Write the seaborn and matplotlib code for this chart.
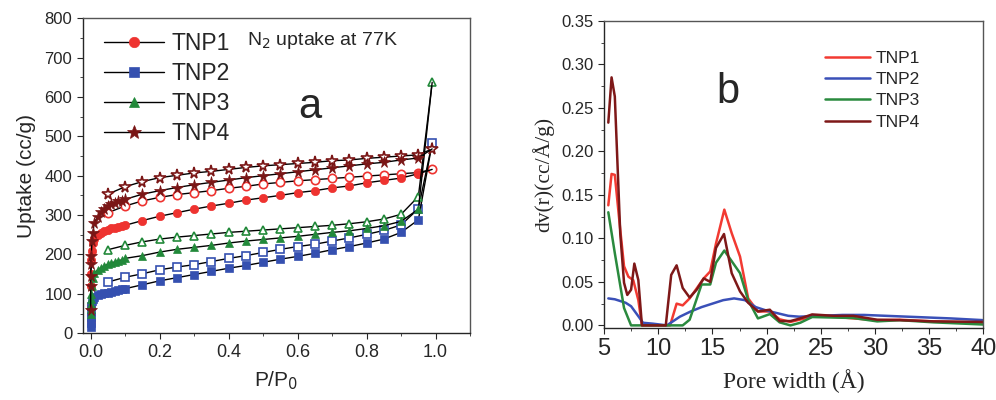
import numpy as np
import pandas as pd
import matplotlib
matplotlib.use("Agg")
import matplotlib.pyplot as plt
import seaborn as sns

# ---------------- Données : isothermes N2 (panneau a) ----------------
p_ads = [0.0001, 0.0003, 0.0006, 0.001, 0.002, 0.004, 0.007,
         0.01, 0.02, 0.03, 0.04, 0.05, 0.06, 0.07, 0.08, 0.09, 0.10,
         0.15, 0.20, 0.25, 0.30, 0.35, 0.40, 0.45, 0.50, 0.55, 0.60,
         0.65, 0.70, 0.75, 0.80, 0.85, 0.90, 0.95, 0.99]
p_des = [0.99, 0.95, 0.90, 0.85, 0.80, 0.75, 0.70, 0.65, 0.60, 0.55,
         0.50, 0.45, 0.40, 0.35, 0.30, 0.25, 0.20, 0.15, 0.10, 0.05]

tnp1_ads = [30, 70, 120, 150, 185, 210, 228,
            240, 250, 255, 260, 263, 266, 268, 270, 272, 274,
            286, 297, 306, 315, 323, 330, 338, 344, 350, 357,
            362, 369, 374, 382, 388, 394, 405, 416]
tnp1_des = [416, 408, 405, 402, 399, 396, 393, 390, 387, 383,
            379, 373, 368, 362, 357, 352, 345, 336, 323, 306]

tnp2_ads = [15, 25, 40, 55, 70, 82, 88,
            93, 96, 99, 101, 103, 105, 107, 109, 111, 113,
            123, 133, 141, 149, 157, 165, 172, 180, 188, 195,
            203, 212, 220, 229, 239, 256, 288, 483]
tnp2_des = [483, 316, 275, 261, 251, 242, 234, 226, 220, 213,
            205, 197, 190, 182, 174, 168, 161, 151, 142, 130]

tnp3_ads = [50, 62, 75, 88, 100, 120, 140,
            152, 160, 166, 171, 175, 178, 181, 184, 186, 190,
            197, 206, 213, 218, 223, 229, 234, 238, 242, 246,
            251, 256, 260, 266, 273, 284, 315, 637]
tnp3_des = [637, 347, 302, 290, 283, 278, 274, 271, 268, 265,
            262, 259, 256, 252, 248, 244, 239, 232, 223, 212]

tnp4_ads = [60, 120, 145, 175, 195, 235, 255,
            280, 295, 308, 316, 322, 327, 331, 335, 337, 340,
            353, 362, 370, 377, 383, 389, 395, 400, 405, 410,
            415, 420, 425, 430, 434, 440, 445, 468]
tnp4_des = [468, 453, 450, 447, 444, 440, 438, 434, 431, 428,
            425, 421, 416, 411, 407, 401, 395, 385, 372, 353]

# ---------------- Données : distribution de pores (panneau b) ----------------
w1 = [5.4, 5.7, 6.0, 6.5, 6.85, 7.25, 7.7, 8.17, 8.5, 11.1, 11.7, 12.26,
      12.9, 14.2, 14.8, 15.33, 16.1, 16.78, 17.55, 18.3, 19.2, 20.3, 21.2,
      22.2, 24.2, 26.2, 28.0, 30.2, 32.3, 35.4, 40.0]
d1 = [0.138, 0.174, 0.173, 0.110, 0.068, 0.056, 0.052, 0.029, 0.0, 0.0, 0.025,
      0.023, 0.031, 0.054, 0.062, 0.094, 0.133, 0.106, 0.079, 0.031, 0.016,
      0.016, 0.007, 0.004, 0.010, 0.010, 0.008, 0.006, 0.0065, 0.0046, 0.003]

w2 = [5.4, 6.0, 7.0, 7.5, 8.2, 8.6, 9.5, 10.8, 12.0, 13.0, 14.0, 15.0, 16.0,
      17.0, 18.0, 19.0, 20.0, 21.0, 22.0, 23.0, 25.0, 27.0, 29.0, 31.0, 33.0,
      35.0, 37.0, 40.0]
d2 = [0.031, 0.030, 0.026, 0.022, 0.010, 0.003, 0.002, 0.0, 0.010, 0.016,
      0.021, 0.025, 0.029, 0.031, 0.029, 0.021, 0.017, 0.014, 0.011, 0.010,
      0.011, 0.012, 0.012, 0.011, 0.010, 0.009, 0.008, 0.006]

w3 = [5.4, 6.0, 6.85, 7.5, 12.26, 12.9, 14.0, 14.8, 15.33, 16.1, 17.55, 18.3,
      19.2, 20.3, 21.2, 22.2, 23.1, 24.2, 26.2, 28.0, 30.2, 32.3, 35.4, 40.0]
d3 = [0.130, 0.083, 0.020, 0.0, 0.0, 0.0065, 0.047, 0.047, 0.072, 0.086,
      0.060, 0.029, 0.008, 0.013, 0.0035, 0.0, 0.003, 0.0096, 0.009, 0.0085,
      0.0046, 0.006, 0.0035, 0.001]

w4 = [5.4, 5.7, 6.0, 6.5, 6.85, 7.15, 7.5, 7.8, 8.17, 8.5, 10.7, 11.2, 11.7,
      12.26, 12.9, 13.55, 14.2, 14.8, 15.33, 16.07, 16.78, 17.55, 18.3, 19.2,
      20.3, 21.2, 22.2, 23.1, 24.2, 26.2, 28.0, 30.2, 32.3, 35.4, 40.0]
d4 = [0.233, 0.285, 0.263, 0.106, 0.049, 0.035, 0.041, 0.071, 0.052, 0.0,
      0.0, 0.058, 0.069, 0.043, 0.032, 0.041, 0.054, 0.050, 0.089, 0.105,
      0.060, 0.039, 0.026, 0.016, 0.018, 0.005, 0.005, 0.008, 0.0126, 0.011,
      0.011, 0.0065, 0.006, 0.0046, 0.004]

names = ["TNP1", "TNP2", "TNP3", "TNP4"]
cols_a = ["#EE3330", "#3550B0", "#22893A", "#7A1616"]
cols_b = ["#F23A32", "#3A50B8", "#2A8A3E", "#7E1818"]
marks = ["o", "s", "^", "*"]

# ---------------- Style ----------------
sns.set_style("ticks")
plt.rcParams['font.family'] = ['Liberation Sans', 'DejaVu Sans']
plt.rcParams['axes.linewidth'] = 1.0
plt.rcParams['xtick.major.size'] = 4
plt.rcParams['ytick.major.size'] = 4
plt.rcParams['xtick.minor.size'] = 2.5
plt.rcParams['ytick.minor.size'] = 2.5

fig = plt.figure(figsize=(9.96, 4.0), dpi=100)
ax1 = fig.add_axes([0.083, 0.167, 0.389, 0.7875])
ax2 = fig.add_axes([0.6064, 0.18, 0.381, 0.768])

# ---------------- Panneau a ----------------
ads = [tnp1_ads, tnp2_ads, tnp3_ads, tnp4_ads]
des = [tnp1_des, tnp2_des, tnp3_des, tnp4_des]
handles = []
for name, c, m, ya, yd in zip(names, cols_a, marks, ads, des):
    ms = 8.5 if m == "*" else 6
    sns.lineplot(x=p_des, y=yd, sort=False, estimator=None, ax=ax1,
                 color="black", lw=1.0, marker=m, markersize=ms,
                 markerfacecolor="white", markeredgecolor=c, markeredgewidth=1.2)
    sns.lineplot(x=p_ads, y=ya, sort=False, estimator=None, ax=ax1,
                 color="black", lw=1.0, marker=m, markersize=ms,
                 markerfacecolor=c, markeredgecolor=c, markeredgewidth=0.5,
                 markevery=list(range(len(p_ads) - 1)), label=name)
    handles.append(ax1.lines[-1])

ax1.set_xlim(-0.023, 1.10)
ax1.set_ylim(0, 800)
ax1.set_xticks(np.arange(0, 1.01, 0.2))
ax1.set_xticks(np.arange(0, 1.11, 0.1), minor=True)
ax1.set_yticks(np.arange(0, 801, 100))
ax1.set_yticks(np.arange(0, 801, 50), minor=True)
ax1.tick_params(axis="x", which="major", labelsize=13)
ax1.tick_params(axis="y", which="major", labelsize=12)
ax1.set_xlabel("P/P$_0$", fontsize=15, labelpad=6)
ax1.set_ylabel("Uptake (cc/g)", fontsize=15, labelpad=6)
for s in ["top", "right"]:
    ax1.spines[s].set_color("#555555")
leg = ax1.legend(handles=handles, labels=names, loc="upper left",
                 frameon=False, fontsize=16.5, handlelength=2.6,
                 handletextpad=0.35, labelspacing=0.3, markerscale=1.25,
                 bbox_to_anchor=(0.02, 1.0), borderaxespad=0.2)
# un seul marqueur au centre de chaque trait de légende
for h in leg.legend_handles:
    h.set_markevery([1])
ax1.text(0.424, 0.915, "N$_2$ uptake at 77K", transform=ax1.transAxes,
         fontsize=14, ha="left", va="baseline")
ax1.text(0.587, 0.718, "a", transform=ax1.transAxes, fontsize=30,
         ha="center", va="center")

# ---------------- Panneau b ----------------
ws = [w1, w2, w3, w4]
ds = [d1, d2, d3, d4]
for name, c, w, d in zip(names, cols_b, ws, ds):
    sns.lineplot(x=w, y=d, sort=False, estimator=None, ax=ax2,
                 color=c, lw=1.8, label=name)

ax2.set_xlim(5, 40)
ax2.set_ylim(-0.003, 0.35)
ax2.set_xticks(np.arange(5, 41, 5))
ax2.set_xticks(np.arange(5, 41, 2.5), minor=True)
ax2.set_yticks(np.arange(0, 0.351, 0.05))
ax2.set_yticks(np.arange(0, 0.351, 0.025), minor=True)
ax2.yaxis.set_major_formatter(matplotlib.ticker.FormatStrFormatter("%.2f"))
ax2.tick_params(axis="x", which="major", labelsize=17)
ax2.tick_params(axis="y", which="major", labelsize=12)
ax2.set_xlabel("Pore width (Å)", fontsize=17, family=["Liberation Serif"], labelpad=6)
ax2.set_ylabel("dv(r)(cc/Å/g)", fontsize=15.5, family=["Liberation Serif"], labelpad=5)
for s in ["top", "right"]:
    ax2.spines[s].set_color("#555555")
ax2.legend(loc="upper right", frameon=False, fontsize=12.5,
           handlelength=2.6, handletextpad=0.3, labelspacing=0.35,
           bbox_to_anchor=(0.85, 0.925), borderaxespad=0)
ax2.text(0.326, 0.768, "b", transform=ax2.transAxes, fontsize=30,
         ha="center", va="center")

fig.savefig("out.png", dpi=100)
